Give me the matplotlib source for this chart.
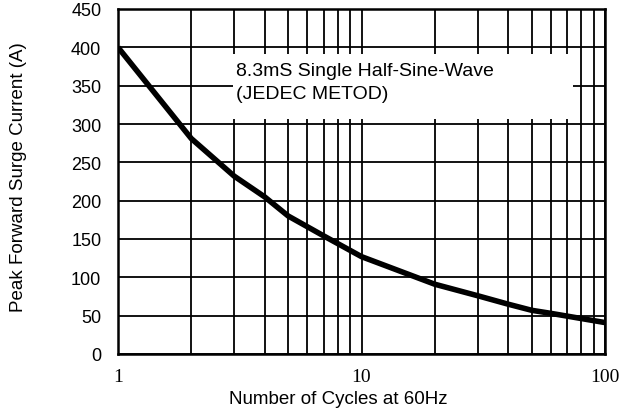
import matplotlib
matplotlib.use("Agg")
import matplotlib.pyplot as plt
from matplotlib.patches import Rectangle
from matplotlib.ticker import FixedLocator, NullFormatter

cycles = [1, 2, 3, 4, 5, 7, 10, 20, 30, 40, 50, 60, 100]
current = [400, 281, 232, 205, 180, 154, 127, 91, 76, 65, 57, 53, 41]
x_ticks = [1, 10, 100]
x_tick_labels = ["1", "10", "100"]
y_ticks = [0, 50, 100, 150, 200, 250, 300, 350, 400, 450]
note = "8.3mS Single Half-Sine-Wave\n(JEDEC METOD)"

fig = plt.figure(figsize=(6.36, 4.14), dpi=100)
ax = fig.add_axes([118/636, 1-355/414, (605-118)/636, (355-10)/414])
ax.set_xscale("log")
ax.set_xlim(1, 100)
ax.set_ylim(0, 450)

minor = [m * d for d in (1, 10) for m in range(2, 10)]
ax.xaxis.set_major_locator(FixedLocator(x_ticks))
ax.xaxis.set_minor_locator(FixedLocator(minor))
ax.xaxis.set_minor_formatter(NullFormatter())
ax.set_xticks(x_ticks)
ax.set_xticklabels(x_tick_labels, fontfamily="Liberation Serif", fontsize=14)
ax.set_yticks(y_ticks)
ax.set_yticklabels([str(v) for v in y_ticks], fontfamily="Liberation Sans", fontsize=13)
ax.tick_params(which="both", length=0)
ax.tick_params(axis="x", pad=10)
ax.tick_params(axis="y", pad=12)

ax.grid(True, which="both", color="black", linewidth=1.3)
for s in ax.spines.values():
    s.set_linewidth(1.8)
    s.set_zorder(5)

ax.add_patch(Rectangle((2.97, 306), 74 - 2.97, 391 - 306, facecolor="white",
                       edgecolor="none", zorder=3))
ax.text(3.05, 355, note, fontfamily="Liberation Sans", fontsize=14,
        va="center", ha="left", zorder=4, linespacing=1.45)

ax.plot(cycles, current, color="black", linewidth=4, zorder=4,
        solid_capstyle="butt", solid_joinstyle="round")

ax.set_xlabel("Number of Cycles at 60Hz", fontfamily="Liberation Sans", fontsize=13.5)
ax.xaxis.set_label_coords(0.452, -0.128)
ax.xaxis.label.set_va("center")
ax.set_ylabel("Peak Forward Surge Current (A)", fontfamily="Liberation Sans", fontsize=13.5)
ax.yaxis.set_label_coords(-0.205, 0.516)
ax.yaxis.label.set_va("center")

fig.savefig("out.png", dpi=100)
